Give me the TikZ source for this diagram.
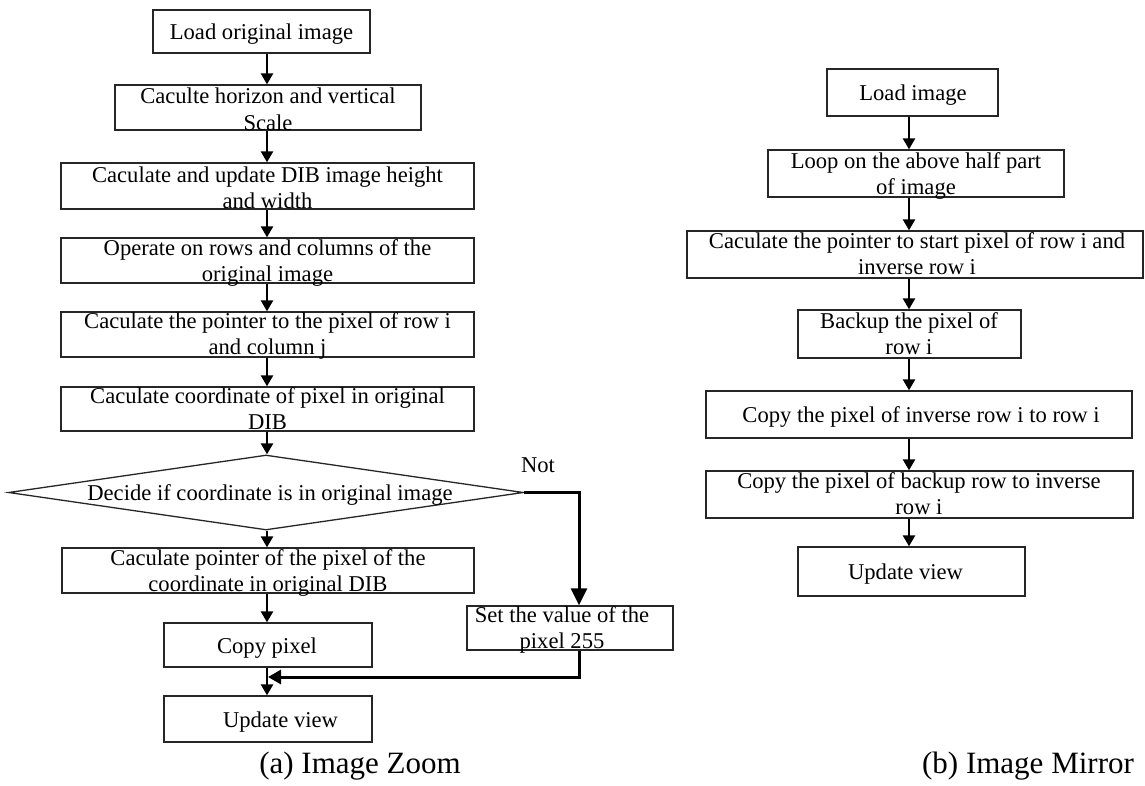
\documentclass[tikz,border=0pt]{standalone}
\usepackage{fontspec}
\setmainfont{Liberation Serif}
\usetikzlibrary{shapes.geometric,arrows.meta,calc}
\begin{document}
\begin{tikzpicture}[x=1pt,y=-1pt,
  box/.style={draw=black!85,line width=1.3pt,inner sep=0pt,rectangle},
  txt/.style={font=\fontsize{22.6}{26.5}\selectfont,align=center,inner sep=0pt,anchor=base},
  flow/.style={line width=2.4pt,-{Triangle[width=12pt,length=11pt]}},
  bigflow/.style={line width=3pt,-{Triangle[width=16pt,length=17pt]}},
  mergeflow/.style={line width=3pt,-{Triangle[width=14pt,length=13pt]}},
  captext/.style={font=\fontsize{31}{36}\selectfont,inner sep=0pt,anchor=base}]
\useasboundingbox (0,0) rectangle (1145,785);

% column coordinates
\coordinate (colA) at (267,0);
\coordinate (colB) at (909,0);
\coordinate (colC) at (579,0);
\coordinate (mrg) at (268,677);

% ---------------- left: image zoom ----------------
\node[box,minimum width=217pt,minimum height=43pt] (b1) at (261.5,31.5) {};
\node[txt] (t1) at (261.5,39.5) {Load original image};

\node[box,minimum width=306pt,minimum height=45pt] (b2) at (268,107.5) {};
\node[txt] (t2) at (268,130) {Caculte horizon and vertical\\Scale};

\node[box,minimum width=413pt,minimum height=46pt] (b3) at (267.5,186) {};
\node[txt] (t3) at (267.5,208.5) {Caculate and update DIB image height\\and width};

\node[box,minimum width=413pt,minimum height=45pt] (b4) at (267.5,260.5) {};
\node[txt] (t4) at (267.5,281.5) {Operate on rows and columns of the\\original image};

\node[box,minimum width=413pt,minimum height=45pt] (b5) at (267.5,334.5) {};
\node[txt] (t5) at (267.5,354.5) {Caculate the pointer to the pixel of row i\\and column j};

\node[box,minimum width=413pt,minimum height=44pt] (b6) at (267.5,409) {};
\node[txt] (t6) at (267.5,429.5) {Caculate coordinate of pixel in original\\DIB};

\node[diamond,draw=black!85,line width=1.3pt,inner sep=0pt,minimum width=515pt,minimum height=75pt] (dec) at (266,492.5) {};
\node[txt] (tdec) at (270,500) {Decide if coordinate is in original image};
\node[txt] (tnot) at (538,472) {Not};

\node[box,minimum width=412pt,minimum height=45pt] (b7) at (268,570.5) {};
\node[txt] (t7) at (268,591.5) {Caculate pointer of the pixel of the\\coordinate in original DIB};

\node[box,minimum width=208pt,minimum height=44pt] (cp) at (268,645) {};
\node[txt] (tcp) at (267,653) {Copy pixel};

\node[box,minimum width=206pt,minimum height=44pt] (sv) at (570,628) {};
\node[txt] (tsv) at (562,648.5) {Set the value of the\\pixel 255};

\node[box,minimum width=208pt,minimum height=46pt] (up) at (268,719) {};
\node[txt] (tup) at (280.5,727) {Update view};

\node[captext] (capa) at (360,773) {(a) Image Zoom};

\draw[flow] (b1.south -| colA) -- (b2.north -| colA);
\draw[flow] (b2.south -| colA) -- (b3.north -| colA);
\draw[flow] (b3.south -| colA) -- (b4.north -| colA);
\draw[flow] (b4.south -| colA) -- (b5.north -| colA);
\draw[flow] (b5.south -| colA) -- (b6.north -| colA);
\draw[flow] (b6.south -| colA) -- (dec.north -| colA);
\draw[flow] (dec.south -| colA) -- (b7.north -| colA);
\draw[flow] (b7.south -| colA) -- (cp.north -| colA);
\draw[flow] (cp.south -| colA) -- (up.north -| colA);
\draw[bigflow] (dec.east) -| (sv.north -| colC);
\draw[mergeflow] (sv.south -| colC) |- (mrg);

% ---------------- right: image mirror ----------------
\node[box,minimum width=171pt,minimum height=47pt] (r1) at (912.5,92.5) {};
\node[txt] (s1) at (913,100.5) {Load image};

\node[box,minimum width=296pt,minimum height=47pt] (r2) at (916,173.5) {};
\node[txt] (s2) at (916,194.5) {Loop on the above half part\\of image};

\node[box,minimum width=456pt,minimum height=47pt] (r3) at (915,254.5) {};
\node[txt] (s3) at (917,274.5) {Caculate the pointer to start pixel of row i and\\inverse row i};

\node[box,minimum width=223pt,minimum height=48pt] (r4) at (909.5,334) {};
\node[txt] (s4) at (909,354.5) {Backup the pixel of\\row i};

\node[box,minimum width=426pt,minimum height=47pt] (r5) at (919,414.5) {};
\node[txt] (s5) at (921,422.5) {Copy the pixel of inverse row i to row i};

\node[box,minimum width=427pt,minimum height=47pt] (r6) at (919.5,494.5) {};
\node[txt] (s6) at (919,514.5) {Copy the pixel of backup row to inverse\\row i};

\node[box,minimum width=227pt,minimum height=49pt] (r7) at (911.5,571.5) {};
\node[txt] (s7) at (905.5,579.5) {Update view};

\node[captext] (capb) at (1028,773) {(b) Image Mirror};

\draw[flow] (r1.south -| colB) -- (r2.north -| colB);
\draw[flow] (r2.south -| colB) -- (r3.north -| colB);
\draw[flow] (r3.south -| colB) -- (r4.north -| colB);
\draw[flow] (r4.south -| colB) -- (r5.north -| colB);
\draw[flow] (r5.south -| colB) -- (r6.north -| colB);
\draw[flow] (r6.south -| colB) -- (r7.north -| colB);
\end{tikzpicture}
\end{document}
